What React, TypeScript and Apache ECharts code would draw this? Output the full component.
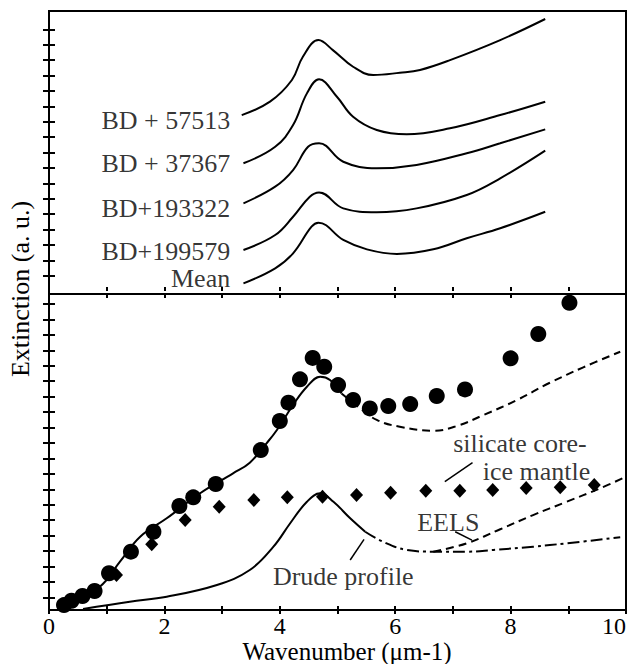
import { useEffect, useRef } from 'react';
import * as echarts from 'echarts';

const FONT = 'Liberation Serif';

// ---------- top panel: extinction curves ----------
const curveNames = ['BD + 57513', 'BD + 37367', 'BD+193322', 'BD+199579', 'Mean'];
const c57513X = [3.34, 3.83, 4.21, 4.40, 4.67, 4.92, 5.27, 5.62, 6.08, 6.43, 6.95, 7.82, 8.60];
const c57513Y = [11.43, 12.30, 13.71, 15.22, 16.30, 15.65, 14.57, 14.03, 14.18, 14.36, 15.00, 16.30, 17.67];
const c37367X = [3.37, 3.92, 4.23, 4.47, 4.68, 4.99, 5.27, 5.68, 6.20, 6.95, 7.82, 8.60];
const c37367Y = [8.30, 9.37, 10.78, 12.84, 13.75, 12.62, 11.32, 10.46, 10.18, 10.57, 11.43, 12.30];
const c193322X = [3.37, 3.92, 4.23, 4.49, 4.68, 5.10, 5.68, 6.37, 7.24, 7.82, 8.60];
const c193322Y = [5.70, 6.78, 7.86, 9.37, 9.60, 8.40, 7.97, 8.19, 8.95, 9.60, 10.50];
const c199579X = [3.37, 3.92, 4.23, 4.52, 4.68, 5.10, 5.68, 6.37, 7.24, 7.82, 8.60];
const c199579Y = [2.67, 3.64, 4.83, 6.13, 6.41, 5.37, 5.12, 5.37, 6.24, 7.32, 9.12];
const meanX = [3.37, 3.92, 4.23, 4.55, 4.67, 5.10, 5.51, 6.03, 6.66, 7.24, 7.82, 8.60];
const meanY = [0.50, 1.48, 2.45, 4.18, 4.44, 3.32, 2.71, 2.41, 2.71, 3.43, 4.08, 5.15];
const curveLabelX = 3.14;
const curveLabelY = [11.06, 8.30, 5.37, 2.56, 0.83];

// ---------- bottom panel ----------
const circleX = [0.26, 0.39, 0.58, 0.79, 1.04, 1.42, 1.81, 2.26, 2.50, 2.89, 3.67, 4.00, 4.15, 4.35, 4.57, 4.77, 5.01, 5.27, 5.56, 5.88, 6.26, 6.72, 7.21, 8.00, 8.48, 9.02];
const circleY = [0.50, 0.78, 1.09, 1.41, 2.56, 3.96, 5.25, 6.92, 7.48, 8.34, 10.54, 12.42, 13.61, 15.12, 16.51, 15.94, 14.75, 13.78, 13.24, 13.39, 13.52, 14.04, 14.47, 16.48, 18.06, 20.08];
const diamondX = [1.17, 1.78, 2.36, 2.95, 3.55, 4.13, 4.74, 5.33, 5.92, 6.53, 7.12, 7.69, 8.27, 8.86, 9.45];
const diamondY = [2.45, 4.44, 6.01, 6.87, 7.30, 7.48, 7.52, 7.63, 7.78, 7.91, 7.91, 7.95, 8.08, 8.13, 8.28];
const fitX = [0.25, 0.88, 1.23, 1.58, 2.04, 2.62, 3.19, 3.48, 3.77, 3.95, 4.23, 4.47, 4.70, 4.87, 5.07];
const fitY = [0.45, 1.69, 3.31, 4.93, 6.12, 7.74, 9.03, 9.72, 10.98, 11.84, 13.46, 14.64, 15.29, 15.08, 14.21];
const mantleX = [5.07, 5.39, 5.68, 6.08, 6.66, 7.07, 7.53, 8.11, 8.68, 9.26, 9.90];
const mantleY = [14.21, 13.26, 12.49, 12.05, 11.79, 12.10, 12.81, 13.78, 14.90, 15.90, 16.91];
const drudeX = [0.59, 1.40, 2.04, 2.91, 3.48, 3.89, 4.18, 4.47, 4.70, 4.93, 5.22, 5.48];
const drudeY = [0.25, 0.72, 1.04, 1.80, 2.77, 4.28, 5.80, 7.19, 7.74, 7.19, 6.12, 5.25];
const drudeTailX = [5.48, 5.79, 6.20, 6.66, 7.24, 7.70, 8.39, 8.97, 9.90];
const drudeTailY = [5.25, 4.60, 4.07, 3.96, 3.96, 4.07, 4.28, 4.50, 4.89];
const eelsX = [6.66, 7.24, 7.82, 8.39, 8.97, 9.55, 10.0];
const eelsY = [3.96, 4.50, 5.41, 6.33, 7.19, 8.06, 8.81];

const noteTexts = ['silicate core-', 'ice mantle', 'EELS', 'Drude profile'];
const noteX = [9.32, 9.38, 6.92, 5.10];
const noteY = [10.98, 9.14, 5.88, 2.34];
const notePos = ['left', 'left', 'inside', 'inside'];
const leaderSilicate = [[7.34, 9.72], [6.86, 8.49]];
const leaderEels = [[7.04, 5.25], [7.33, 4.71]];
const leaderDrude = [[5.22, 3.42], [5.46, 4.76]];

const xTicks = [0, 2, 4, 6, 8, 10];
const topTicks = [1, 2, 3, 4, 5, 6, 7, 8, 9, 10, 11, 12, 13, 14, 15, 16, 17];
const bottomTicks = [1, 2, 3, 4, 5, 6, 7, 8, 9, 10, 11, 12, 13, 14, 15, 16, 17, 18, 19, 20];
const topRange = [-0.19, 18.19];
const bottomRange = [0.18, 20.65];

const zip = (xs: number[], ys: number[]) => xs.map((x, i) => [x, ys[i]]);

export default function App() {
  const ref = useRef<HTMLDivElement>(null);
  useEffect(() => {
    if (!ref.current) return;
    const chart = echarts.init(ref.current, null, { renderer: 'svg' });

    const mkX = (gridIndex: number, position: string, inside: boolean, labels: boolean) => ({
      type: 'value', gridIndex, position, min: 0, max: 10, interval: 1,
      axisLine: { show: false },
      axisTick: { show: true, inside, length: 4, lineStyle: { color: '#000', width: 2 } },
      axisLabel: {
        show: labels, color: '#000', fontFamily: FONT, fontSize: 24, margin: 5, lineHeight: 22,
        alignMaxLabel: 'right',
        formatter: (v: number) => (xTicks.includes(v) ? String(v) : ''),
      },
      splitLine: { show: false },
    });
    const mkY = (gridIndex: number, inside: boolean, range: number[], ticks: number[]) => ({
      type: 'value', gridIndex, position: 'left', min: range[0], max: range[1],
      axisLine: { show: false },
      axisTick: { show: true, inside, length: 6, customValues: ticks, lineStyle: { color: '#000', width: 2 } },
      axisLabel: { show: false },
      splitLine: { show: false },
    });

    const line = (name: string, data: number[][], grid: number, type: any = 'solid') => ({
      name, type: 'line', data, xAxisIndex: grid === 0 ? 0 : 2, yAxisIndex: grid === 0 ? 0 : 2,
      smooth: 0.4, symbol: 'none', clip: false,
      lineStyle: { color: '#000', width: 2, type },
      z: 3,
    });

    const topCurves = [
      zip(c57513X, c57513Y), zip(c37367X, c37367Y), zip(c193322X, c193322Y),
      zip(c199579X, c199579Y), zip(meanX, meanY),
    ];

    const labelStyle = { color: '#000', fontFamily: FONT, fontSize: 26 };

    const option: any = {
      animation: false,
      backgroundColor: '#fff',
      grid: [
        { left: 49, top: 11, width: 577, height: 283, show: true, borderColor: '#000', borderWidth: 2, backgroundColor: 'transparent' },
        { left: 49, top: 294, width: 577, height: 316, show: true, borderColor: '#000', borderWidth: 2, backgroundColor: 'transparent' },
      ],
      xAxis: [
        mkX(0, 'bottom', true, false),
        mkX(1, 'top', true, false),
        mkX(1, 'bottom', true, true),
        mkX(1, 'bottom', false, false),
      ],
      yAxis: [
        mkY(0, true, topRange, topTicks),
        mkY(0, false, topRange, topTicks),
        mkY(1, true, bottomRange, bottomTicks),
        mkY(1, false, bottomRange, bottomTicks),
      ],
      series: [
        ...topCurves.map((d, i) => line(curveNames[i], d, 0)),
        {
          type: 'scatter', xAxisIndex: 0, yAxisIndex: 0, symbolSize: 0, silent: true,
          data: curveLabelY.map((y, i) => ({ value: [curveLabelX, y], name: curveNames[i] })),
          label: { show: true, position: 'left', distance: 0, formatter: '{b}', ...labelStyle },
        },
        line('fit', zip(fitX, fitY), 1),
        line('mantle', zip(mantleX, mantleY), 1, [8, 5]),
        line('drude', zip(drudeX, drudeY), 1),
        line('drudeTail', zip(drudeTailX, drudeTailY), 1, [12, 4, 3, 4]),
        line('eels', zip(eelsX, eelsY), 1, [8, 5]),
        {
          name: 'circles', type: 'scatter', xAxisIndex: 2, yAxisIndex: 2, symbol: 'circle', symbolSize: 16,
          clip: false, itemStyle: { color: '#000', opacity: 1 }, data: zip(circleX, circleY), z: 4,
        },
        {
          name: 'diamonds', type: 'scatter', xAxisIndex: 2, yAxisIndex: 2, symbol: 'diamond', symbolSize: [13, 14],
          clip: false, itemStyle: { color: '#000', opacity: 1 }, data: zip(diamondX, diamondY), z: 4,
        },
        ...[leaderSilicate, leaderEels, leaderDrude].map((d, i) => ({
          name: 'leader' + i, type: 'line', xAxisIndex: 2, yAxisIndex: 2, data: d, symbol: 'none',
          lineStyle: { color: '#000', width: 1.5 }, z: 3,
        })),
        {
          type: 'scatter', xAxisIndex: 2, yAxisIndex: 2, symbolSize: 0, silent: true,
          data: noteTexts.map((t, i) => ({
            value: [noteX[i], noteY[i]], name: t,
            label: { position: notePos[i], distance: 0 },
          })),
          label: { show: true, formatter: '{b}', ...labelStyle },
          z: 5,
        },
      ],
      graphic: [
        {
          type: 'text', x: 20, y: 289, rotation: Math.PI / 2,
          style: { text: 'Extinction (a. u.)', fill: '#000', fontFamily: FONT, fontSize: 26, align: 'center', verticalAlign: 'middle' },
        },
        {
          type: 'text', x: 347, y: 651,
          style: { text: 'Wavenumber (\u03bcm-1)', fill: '#000', fontFamily: FONT, fontSize: 25, lineHeight: 22, align: 'center', verticalAlign: 'middle' },
        },
      ],
    };
    chart.setOption(option);
    return () => chart.dispose();
  }, []);
  return <div ref={ref} style={{ position: 'fixed', left: 0, top: 0, width: 631, height: 664 }} />;
}
